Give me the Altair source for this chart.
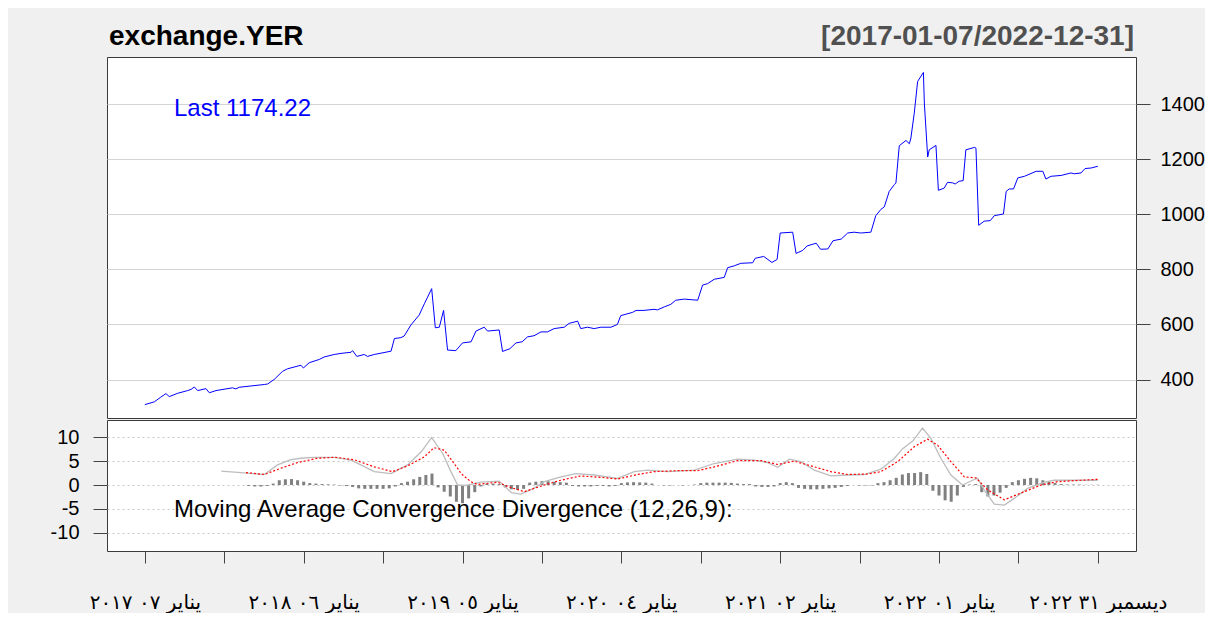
import altair as alt
import pandas as pd

# ---------------- data ----------------
price_weeks = [0.0, 3.1, 5.2, 6.9, 8.0, 10.7, 14.0, 15.1, 16.2, 17.3, 20.0, 21.1, 23.3, 28.7, 29.8, 30.9,
               39.1, 40.2, 42.3, 45.1, 46.7, 51.1, 51.9, 53.8, 57.1, 58.7, 62.0, 64.2, 67.5, 68.0, 69.4,
               71.8, 72.9, 75.1, 80.6, 81.7, 83.8, 84.9, 87.1, 89.8, 91.5, 93.9, 95.1, 96.4, 97.8, 99.1,
               101.8, 104.0, 106.8, 108.4, 111.1, 112.2, 116.0, 117.1, 119.5, 121.5, 123.5, 125.3, 127.4,
               129.7, 131.8, 134.0, 137.3, 138.9, 141.7, 142.7, 144.9, 147.1, 149.3, 152.6, 154.7, 155.8,
               159.7, 160.8, 163.4, 166.7, 167.8, 170.1, 172.2, 173.8, 176.6, 181.0, 182.6, 184.2, 186.4,
               189.7, 190.8, 193.0, 195.1, 199.0, 199.8, 202.6, 205.3, 207.0, 208.0, 212.1, 213.2, 215.4,
               216.8, 219.8, 221.2, 223.6, 225.3, 228.0, 230.1, 232.2, 234.4, 237.7, 239.3, 241.0, 242.1,
               243.7, 245.4, 245.9, 247.0, 249.2, 250.3, 250.8, 251.9, 253.0, 254.9, 255.2, 256.3, 256.8,
               259.0, 259.8, 261.7, 262.8, 264.5, 265.3, 266.6, 267.9, 268.8, 271.7, 272.1, 273.0, 274.8,
               276.8, 278.1, 281.1, 282.0, 283.0, 284.4, 285.8, 288.0, 291.8, 294.0, 295.0, 296.7, 300.0,
               303.2, 304.3, 306.5, 307.8, 309.8, 312.0]
price_vals = [309, 319, 336, 349, 338, 350, 360, 364, 373, 360, 367, 352, 360, 370, 366, 372,
              382, 384, 400, 430, 439, 452, 442, 461, 473, 482, 491, 495, 499, 505, 484,
              491, 484, 491, 503, 549, 552, 558, 598, 634, 675, 730, 588, 590, 651, 507,
              505, 533, 537, 576, 590, 576, 580, 502, 512, 533, 537, 555, 559,
              573, 573, 585, 590, 604, 612, 585, 590, 585, 590, 590, 600, 632,
              644, 651, 651, 655, 653, 664, 673, 688, 692, 688, 743, 748, 764,
              771, 806, 813, 822, 824, 840, 847, 825, 836, 932, 935, 858, 869,
              885, 895, 873, 874, 904, 910, 932, 935, 932, 935, 995, 1018, 1027,
              1083, 1108, 1114, 1249, 1268, 1256, 1277, 1367, 1482, 1515, 1404, 1208, 1234,
              1250, 1087, 1095, 1116, 1114, 1110, 1120, 1122, 1234, 1243, 1240, 960, 975,
              977, 995, 1001, 1083, 1092, 1092, 1132, 1138, 1156, 1156, 1128, 1138, 1141,
              1150, 1147, 1150, 1166, 1168, 1174.22]

macd_weeks = [25, 31.4, 39.1, 43.4, 47.8, 51.1, 55.4, 62.0, 67.5, 70.7, 75.1, 80.6, 86.0, 90.4, 93.9,
              97.5, 100.2, 102.4, 105, 110, 116, 120, 123, 127, 130.8, 136.2, 141.1, 147.1, 154.8,
              160.2, 164.6, 171.2, 179.9, 186.4, 194.1, 199.5, 203.9, 207.2, 211, 214.8, 219.2, 224.6,
              230.1, 235.5, 241, 245.4, 248.1, 251.4, 254.6, 257.4, 260.6, 263.9, 267.7, 271, 272.6,
              274.8, 278.1, 281.4, 284.6, 289, 294.5, 297.7, 302.1, 312]
macd_vals = [2.9, 2.6, 2.2, 4.2, 5.3, 5.6, 5.8, 5.8, 5.2, 4.2, 2.8, 2.4, 4.2, 6.9, 9.9,
             6.6, 2.8, 0.0, -0.1, 0.6, 0.8, -1.6, -1.9, -0.8, 0.7, 1.7, 2.4, 2.1, 1.4,
             2.8, 3.1, 2.8, 3.1, 4.5, 5.4, 5.2, 4.7, 3.7, 5.4, 4.9, 3.1, 1.9,
             2.1, 2.2, 3.3, 5.6, 7.6, 9.2, 11.9, 9.7, 5.6, 2.1, 0.0, 1.0, 1.4,
             -1.0, -4.0, -4.2, -2.8, -0.7, 0.6, 1.0, 1.0, 1.0]

signal_weeks = [33.1, 39.1, 44.5, 50, 56.5, 62.5, 68.5, 75.1, 81.1, 86, 91.5, 94.7, 98, 102.4, 103.5,
                106.7, 108.9, 115.5, 118.8, 124.2, 130.8, 136.2, 142.7, 149.3, 154.8, 161.3, 166.8,
                174.4, 181, 186.4, 194.1, 201.7, 207.2, 212.6, 219.2, 224.6, 230.1, 236.6, 241, 246.5,
                251.9, 256.3, 259.6, 263.9, 268.3, 272.1, 275.9, 281.4, 286.8, 293.4, 298.8, 306.5, 312]
signal_vals = [2.6, 2.2, 3.5, 4.7, 5.6, 5.8, 5.3, 3.8, 2.8, 4.0, 5.9, 7.8, 7.3, 3.5, 2.4,
               0.7, 0.1, 0.6, -0.3, -1.4, 0.0, 1.0, 1.9, 1.6, 1.25, 2.2, 2.8,
               3.0, 3.0, 3.8, 5.1, 5.1, 4.3, 5.0, 3.8, 2.8, 2.2, 2.3, 2.8, 4.9,
               8.0, 9.6, 8.3, 4.9, 1.7, 1.5, -1.0, -3.1, -1.7, 0.0, 0.7, 1.0, 1.2]

hist_weeks = list(range(34, 313, 2))
hist_vals = [-0.2, -0.3, -0.3, -0.2, 0.3, 1.0, 1.2, 1.25, 1.0, 0.7,
             0.4, 0.3, 0.2, 0.15, 0.1, -0.1, -0.2, -0.4, -0.7, -0.8,
             -0.8, -0.8, -0.8, -0.7, -0.3, 0.4, 0.7, 1.2, 1.7, 2.1,
             2.4, -0.5, -1.4, -2.4, -3.5, -3.8, -2.8, -1.5, -0.3, 0.3,
             0.3, 0.2, -0.5, -0.9, -1.0, -0.8, 0.5, 0.7, 0.8, 0.8,
             0.7, 0.6, 0.5, -0.2, -0.3, -0.3, -0.3, -0.2, -0.2, -0.3,
             -0.2, 0.4, 0.55, 0.6, 0.55, 0.5, 0.3, 0.0, -0.1, -0.1,
             0.0, -0.1, 0.0, 0.1, 0.4, 0.5, 0.5, 0.5, 0.5, 0.45,
             0.3, 0.2, 0.2, -0.3, -0.4, -0.4, -0.3, 0.4, 0.6, 0.4,
             -0.6, -0.8, -0.9, -0.9, -0.8, -0.7, -0.6, -0.4, -0.2, 0.0,
             -0.1, -0.1, -0.1, 0.4, 0.6, 1.0, 1.5, 2.2, 2.5, 2.5,
             2.7, 2.3, -1.2, -2.2, -3.2, -3.5, -2.2, -0.4, 0.1, 0.2,
             -1.5, -2.4, -2.2, -1.6, -0.6, 0.6, 1.0, 1.3, 1.5, 1.4,
             1.0, 0.7, 0.4, 0.2, 0.1, 0.1, 0.1, 0.05, 0.05, 0.05]

x_tick_weeks = [0, 26, 52, 78, 104, 130, 156, 182, 208, 234, 260, 286, 312]
x_label_weeks = [0, 52, 104, 156, 208, 260, 312]
x_labels = ["يناير ٠٧ ٢٠١٧", "يناير ٠٦ ٢٠١٨", "يناير ٠٥ ٢٠١٩", "يناير ٠٤ ٢٠٢٠",
            "يناير ٠٢ ٢٠٢١", "يناير ٠١ ٢٠٢٢", "ديسمبر ٣١ ٢٠٢٢"]
price_ticks = [400, 600, 800, 1000, 1200, 1400]
macd_ticks = [-10, -5, 0, 5, 10]

title_left = ["exchange.YER"]
title_right = ["[2017-01-07/2022-12-31]"]
last_text = ["Last 1174.22"]
macd_text = ["Moving Average Convergence Divergence (12,26,9):"]

# ---------------- frames ----------------
price_df = pd.DataFrame({"week": price_weeks, "value": price_vals})
macd_df = pd.DataFrame({"week": macd_weeks, "macd": macd_vals})
sig_df = pd.DataFrame({"week": signal_weeks, "signal": signal_vals})
hist_df = pd.DataFrame({"week": hist_weeks, "hist": hist_vals})

W = 1029
H_TOP = 361
H_BOT = 131
FONT = "Liberation Sans"

xscale = alt.Scale(domain=[-12.4, 324.5], nice=False, zero=False)

label_expr = " : ".join(
    f"datum.value == {w} ? '{t}'" for w, t in zip(x_label_weeks, x_labels)
) + " : ''"

# ---------------- top panel ----------------
price_line = alt.Chart(price_df).mark_line(color="#0000ff", strokeWidth=1).encode(
    x=alt.X("week:Q", scale=xscale, axis=None),
    y=alt.Y("value:Q",
            scale=alt.Scale(domain=[260.4, 1571], nice=False, zero=False),
            axis=alt.Axis(orient="right", values=price_ticks, title=None, grid=True,
                          format="d", labelOverlap=False,
                          gridColor="#d4d4d4", gridWidth=1, domain=False,
                          tickSize=14, tickColor="#444444", labelPadding=10,
                          labelFontSize=20, labelFont=FONT, labelColor="#000000")),
)

def text_layer(values, x, y, size, color, align="left", bold=False):
    return alt.Chart(pd.DataFrame({"t": values})).mark_text(
        align=align, baseline="middle", fontSize=size, font=FONT,
        fontWeight="bold" if bold else "normal", color=color
    ).encode(text="t:N", x=alt.value(x), y=alt.value(y))

top = alt.layer(
    price_line,
    text_layer(title_left, 2, -20, 28, "#000000", bold=True),
    text_layer(title_right, 1027, -20, 28, "#505050", align="right", bold=True),
    text_layer(last_text, 67, 52, 24, "#0000ff"),
).properties(width=W, height=H_TOP)

# ---------------- MACD panel ----------------
mscale = alt.Scale(domain=[-13.8, 13.6], nice=False, zero=False)

x_axis = alt.Axis(values=x_tick_weeks, labelExpr=label_expr, title=None,
                  grid=False, domain=False, tickSize=12, tickColor="#444444",
                  labelPadding=29, labelFontSize=20, labelFont="DejaVu Sans",
                  labelColor="#000000", labelOverlap=False, labelFlush=False,
                  labelAngle=0)
m_axis = alt.Axis(orient="left", values=macd_ticks, title=None, grid=True,
                  labelExpr="datum.value < 0 ? '-' + abs(datum.value) : '' + datum.value",
                  labelOverlap=False,
                  gridColor="#c8c8c8", gridDash=[2, 3], gridWidth=1, domain=False,
                  tickSize=14, tickColor="#444444", labelPadding=14,
                  labelFontSize=20, labelFont=FONT, labelColor="#000000")

hist = alt.Chart(hist_df).mark_rule(color="#808080", strokeWidth=3).encode(
    x=alt.X("week:Q", scale=xscale, axis=x_axis),
    y=alt.Y("hist:Q", scale=mscale, axis=m_axis),
    y2=alt.datum(0),
)

macd_line = alt.Chart(macd_df).mark_line(color="#bdbdbd", strokeWidth=1.3).encode(
    x=alt.X("week:Q", scale=xscale, axis=x_axis),
    y=alt.Y("macd:Q", scale=mscale, axis=m_axis),
)

sig_line = alt.Chart(sig_df).mark_line(color="#ff0000", strokeWidth=1.2, strokeDash=[2, 2]).encode(
    x=alt.X("week:Q", scale=xscale, axis=x_axis),
    y=alt.Y("signal:Q", scale=mscale, axis=m_axis),
)

bottom = alt.layer(
    hist, macd_line, sig_line,
    text_layer(macd_text, 67, 90, 24, "#000000"),
).properties(width=W, height=H_BOT)

chart = alt.vconcat(top, bottom, spacing=0).properties(
    background="#f0f0f0",
    padding={"left": 41, "top": 14, "right": 0, "bottom": 0},
).configure_view(
    stroke="#3a3a3a", strokeWidth=1, fill="#ffffff"
)

chart.save("out.html", embed_options={"renderer": "svg", "actions": False})
